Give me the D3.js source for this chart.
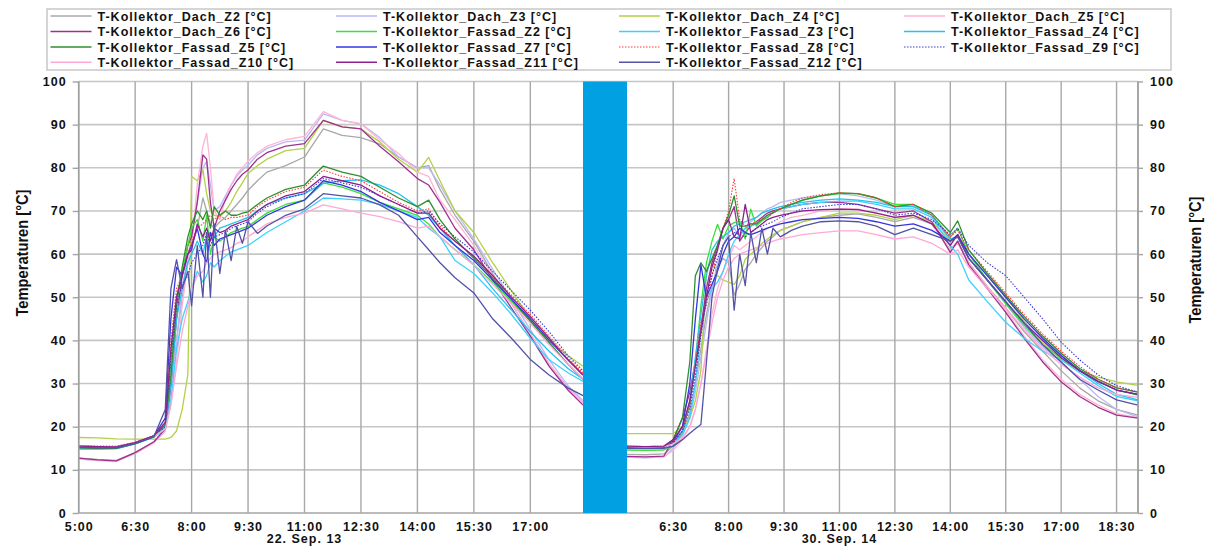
<!DOCTYPE html>
<html>
<head>
<meta charset="utf-8">
<script src="https://cdn.jsdelivr.net/npm/d3@7"></script>
<style>
  body { margin: 0; background: #fff; }
  text { font-family: "Liberation Sans", Arial, sans-serif; font-weight: bold; fill: #111; }
</style>
</head>
<body>
<script>
// ---- time grids (hours of the day) ----
const hoursDay1 = [5.0, 5.5, 6.0, 6.5, 7.0, 7.3, 7.45, 7.6, 7.75, 7.9,
  8.0, 8.15, 8.3, 8.4, 8.5, 8.6, 8.75, 8.9, 9.05, 9.2,
  9.35, 9.5, 9.75, 10.0, 10.5, 11.0, 11.5, 12.0, 12.5, 13.0,
  13.5, 14.0, 14.3, 14.6, 15.0, 15.5, 16.0, 16.5, 17.0, 17.5,
  18.0, 18.4];
const hoursDay2 = [5.25, 5.75, 6.25, 6.5, 6.75, 6.95, 7.1, 7.25, 7.4, 7.55,
  7.7, 7.85, 8.0, 8.15, 8.3, 8.45, 8.6, 8.75, 8.9, 9.05,
  9.2, 9.4, 9.7, 10.0, 10.5, 11.0, 11.5, 12.0, 12.5, 13.0,
  13.5, 14.0, 14.2, 14.5, 15.0, 15.5, 16.0, 16.5, 17.0, 17.5,
  18.0, 18.5, 19.08];

// ---- day 1 : 22. Sep. 13 ----
const dachZ2Day1 = [12.7, 12.4, 12.2, 14.0, 16.5, 19.5, 28, 40, 50, 58,
  62, 66, 73, 70, 67, 66, 67.5, 68.5, 70, 71.5,
  73, 74.8, 77, 79, 80.5, 82.5, 89, 87.5, 87, 85.5,
  82.5, 80, 80.5, 75, 69, 63, 55.5, 48.5, 41.5, 34.5,
  29, 25.5];
const dachZ3Day1 = [12.5, 12.2, 12.0, 13.8, 16.3, 19, 27, 40, 52, 60,
  63, 72, 80, 81.5, 76, 70, 71, 73.5, 76, 78,
  79.5, 80.6, 83, 84.5, 86, 86.4, 92.5, 91, 90.2, 87,
  82.5, 80, 80, 76, 70, 63.5, 56.5, 49.5, 42.5, 35.5,
  29.5, 26];
const dachZ4Day1 = [17.5, 17.4, 17.2, 17.1, 17.1, 17.1, 17.5, 19, 24, 32,
  78, 77, 79.5, 74, 70, 69, 68.7, 70, 72, 74.5,
  76.5, 78.7, 80.5, 82, 84, 84.5, 91, 89.5, 89, 86,
  82, 79, 82.4, 77, 70, 65, 58, 51.5, 45, 40,
  36.5, 34];
const dachZ5Day1 = [12.5, 12.2, 12.0, 13.8, 16.3, 19, 25, 35, 48, 58,
  62, 76, 85, 88, 80, 70, 68, 73, 76, 78.5,
  80, 81.5, 83.5, 85, 86.5, 87.3, 93, 91, 90.2, 86.5,
  83.3, 79, 78, 72.5, 68, 62, 55, 48.5, 41.5, 34.5,
  29, 25.5];
const dachZ6Day1 = [12.7, 12.3, 12.1, 14.0, 16.5, 19.5, 30, 45, 55, 62,
  64, 72, 83, 82, 72, 66, 70, 72.5, 75, 77,
  78.5, 79.5, 82, 83.5, 85, 85.6, 91, 89.5, 89, 85,
  81.4, 77.5, 76, 72, 66, 61, 54, 47.5, 41, 34,
  28.5, 25];
const fassadZ2Day1 = [14.8, 14.8, 14.9, 16.0, 17.6, 20, 35, 50, 56, 62,
  66, 68, 63, 69, 60, 64, 63, 64, 65, 65.5,
  66, 66.4, 68, 69.5, 71.5, 72.5, 76.5, 75.5, 74, 72,
  70.5, 69, 67, 64, 61, 57.5, 53.5, 49, 44.5, 39.5,
  34.5, 31];
const fassadZ3Day1 = [14.9, 14.8, 14.9, 16.0, 17.6, 19.5, 26, 38, 45, 49,
  52, 56, 53.5, 55, 58, 57, 58.5, 59.5, 60.5, 61,
  61.5, 62, 63.5, 65, 67.5, 70, 73, 72.8, 72.5, 71.5,
  70, 68.5, 66, 64, 58.5, 55.5, 51, 46, 40.5, 35.5,
  32.5, 30.5];
const fassadZ4Day1 = [15.2, 15.1, 15.1, 16.1, 17.7, 20, 30, 45, 52, 58,
  60, 63, 60, 64, 65, 64, 66, 66.5, 67, 67.5,
  68, 68.5, 70, 71.5, 73, 74, 76.4, 77, 77.2, 76,
  74, 71, 69, 66, 62, 57.5, 52, 47, 42, 37.5,
  33.5, 31];
const fassadZ5Day1 = [15.1, 15.0, 15.0, 16.1, 17.7, 20.5, 32, 48, 57, 64,
  67, 70, 68, 70, 66, 71, 69, 70, 69, 69,
  69.5, 69.8, 71.5, 73, 75, 76, 80.4, 79, 78, 75.5,
  73, 71, 72.5, 68, 63.5, 59, 54.5, 49.5, 44.5, 39.5,
  34.5, 31];
const fassadZ7Day1 = [15.5, 15.4, 15.3, 16.3, 17.9, 22, 45, 57, 55, 60,
  62, 66, 60, 58, 65, 62, 63.5, 64, 64.5, 65,
  65.5, 66, 67.5, 69, 71, 72.5, 77, 76, 74.5, 72,
  70, 68, 68.5, 65, 62, 58.5, 54, 49.5, 45, 40,
  35.5, 32];
const fassadZ8Day1 = [15.6, 15.5, 15.5, 16.4, 18, 21, 40, 52, 55, 60,
  63, 66, 67, 68, 69, 68, 69, 68, 68.5, 68.5,
  68.8, 69, 71, 72.5, 74.5, 75.5, 79.5, 78, 77, 74.5,
  72, 70, 70.5, 66.5, 63, 59.5, 55, 50.5, 46, 41,
  36, 32.5];
const fassadZ9Day1 = [15.3, 15.2, 15.2, 16.2, 17.8, 20, 36, 48, 53, 55,
  58, 60, 62, 65, 62, 64, 64.5, 65, 66, 66.5,
  67, 67.5, 69.5, 71, 73, 74, 77.5, 76.5, 75.5, 73.5,
  71.5, 69.5, 70, 67, 64, 60.5, 56, 51.5, 47, 42,
  36.5, 33];
const fassadZ10Day1 = [15.5, 15.4, 15.4, 16.3, 17.8, 19.5, 25, 34, 42, 48,
  52, 55, 56, 58, 59, 60, 60.5, 61, 61.5, 62.5,
  63, 64, 65.5, 67, 68.5, 69.5, 71.4, 70.5, 69.5, 68.7,
  67.5, 66, 66.5, 64, 61, 57.5, 53, 48.5, 44, 39,
  34.5, 31];
const fassadZ11Day1 = [15.5, 15.4, 15.3, 16.3, 17.9, 21, 38, 50, 55, 60,
  61, 67, 64, 66, 63, 66, 65, 65.5, 66.5, 67,
  67.5, 68, 70, 71.5, 73.5, 74.5, 78, 77, 76, 73.5,
  71.5, 69.5, 69.5, 66, 63, 59.5, 55, 50, 45.5, 40.5,
  35.5, 32];
const fassadZ12Day1 = [15.2, 15.1, 15.1, 16.1, 17.7, 24, 52, 58.7, 52, 56,
  48, 62, 50, 65, 50, 67, 55.5, 65.5, 58.5, 66.4,
  62.5, 67.5, 64.8, 66.5, 69, 70.5, 74, 73.5, 73, 71.4,
  69, 64, 61, 58, 54.5, 51, 45, 40.5, 35.6, 32,
  29, 27.2];

// ---- day 2 : 30. Sep. 14 ----
const dachZ2Day2 = [13.6, 13.5, 13.7, 15.5, 18.5, 23, 30, 38, 46, 52,
  57, 59, 58, 50.5, 53, 56.5, 58, 60, 61.5, 63,
  64, 65.5, 66.5, 67.5, 68.5, 69, 69.3, 68.5, 67.5, 68.5,
  67, 61, 63, 58, 52.5, 47.5, 42, 37.5, 33, 29,
  26, 24, 22.7];
const dachZ3Day2 = [12.9, 12.8, 13.0, 15.0, 18, 22, 28, 36, 44, 52,
  58, 62, 65, 66, 64, 66, 67.5, 68.5, 69.5, 70.5,
  71, 72, 72.5, 73, 73.5, 74, 73.5, 72.5, 71, 71,
  69, 63, 64.5, 60, 54, 48.5, 43, 38.5, 35, 31,
  27, 24, 22.3];
const dachZ4Day2 = [18.4, 18.4, 18.4, 18.4, 20, 22, 26, 33, 56, 59,
  55, 54, 53.5, 53, 55, 58.8, 60, 61, 62.5, 63.5,
  64.5, 65.5, 66.5, 67.5, 68.5, 69.5, 69.5, 69, 68, 69,
  67.5, 63, 64, 60, 55, 50, 44.5, 39.5, 35.5, 33,
  31.5, 30.4, 29.6];
const dachZ5Day2 = [13.0, 12.9, 13.1, 14.5, 17, 20, 24, 30, 38, 46,
  52, 56, 59, 62, 61, 62, 63, 64, 65, 66,
  66.5, 67.5, 68.5, 69, 70, 70.5, 70.5, 69.5, 68.5, 69,
  67, 61, 62.5, 58, 52.5, 47, 41, 35.5, 31, 27.5,
  25, 23, 22.1];
const dachZ6Day2 = [13.1, 13.0, 13.2, 17, 22, 28, 35, 43, 52, 58,
  62, 66, 68, 71, 63, 65, 66.5, 67.5, 68.5, 69.5,
  70, 70.5, 71, 71.5, 72, 72, 71.5, 70.5, 69.5, 70,
  67.5, 60.4, 63, 57.5, 52, 46.5, 40.5, 35, 30.4, 27,
  24.5, 22.7, 22];
const fassadZ2Day2 = [14.6, 14.5, 14.6, 15.5, 19, 25, 35, 48, 58, 63,
  66.9, 63.5, 66.5, 67.3, 67.7, 63.5, 70.4, 66.5, 67.7, 68.5,
  69.6, 70.5, 71.5, 72.5, 73.5, 74, 74, 73, 71.5, 71.5,
  69, 64, 66, 60, 54, 48.5, 43.5, 39, 36, 33,
  30.5, 28.5, 27.3];
const fassadZ3Day2 = [15.3, 15.2, 15.3, 16, 18, 22, 30, 42, 49, 52,
  53.5, 56, 60, 63, 64.5, 66, 66.5, 67, 68, 69,
  69.5, 70.5, 71, 71.5, 72, 72.3, 72.3, 71.5, 70.5, 70.5,
  68.5, 62, 60, 54, 49, 44.2, 40.5, 37.5, 35.5, 32.5,
  29.5, 27, 26];
const fassadZ4Day2 = [15.4, 15.3, 15.4, 16.3, 19, 26, 36, 46, 55, 61,
  63, 64, 65, 66.5, 67, 67.5, 68, 68.5, 69.5, 70,
  70.5, 71, 71.5, 72, 72.5, 72.8, 72.5, 72, 71, 71,
  69, 63.5, 64, 59, 54, 49, 44, 40, 36.5, 33,
  30, 27.5, 26.2];
const fassadZ5Day2 = [15.2, 15.1, 15.2, 17, 22, 35, 55, 58, 56, 59,
  62, 66, 69, 73.5, 66.5, 66.5, 67, 67, 68, 69,
  69.6, 70.5, 71.5, 72.5, 73.5, 74.2, 74, 73, 71, 71.5,
  69.5, 65, 67.7, 61, 55.5, 50.5, 45.5, 41, 37, 33.5,
  31, 29, 28];
const fassadZ7Day2 = [15.2, 15.1, 15.2, 16.5, 20, 30, 45, 57.5, 50, 53,
  56, 60, 63, 64, 66, 65, 64.5, 65, 65.5, 66,
  66.5, 67, 67.5, 68, 68.3, 68.5, 68.3, 67.5, 66.5, 67,
  65.5, 63, 64.5, 60, 55, 50, 45, 40.5, 36.5, 33,
  30.5, 28.5, 27.5];
const fassadZ8Day2 = [15.5, 15.4, 15.5, 16.5, 19, 25, 35, 44, 48, 55,
  61, 66, 70, 77.5, 68, 66.5, 67, 67.5, 68, 68.5,
  69.5, 70.5, 72, 73, 73.8, 74.2, 74, 73, 71, 71.5,
  69, 64, 65.5, 61, 56, 51, 46, 41.5, 37.5, 34,
  31, 29, 28];
const fassadZ9Day2 = [15.3, 15.2, 15.3, 16.3, 19, 24, 32, 41, 50, 55,
  59, 62, 64, 65, 64.5, 64, 65, 66, 66.5, 67,
  67.5, 68.5, 69.5, 70.5, 71, 71.5, 71.5, 70.5, 69, 69.5,
  68, 64.5, 66, 62, 58, 55, 50, 45, 39.6, 35.5,
  32, 29.5, 28];
const fassadZ10Day2 = [15.4, 15.3, 15.4, 16, 17.5, 20, 24, 30, 37, 44,
  50, 54, 57, 59, 60, 60.5, 61, 61.5, 62, 62.5,
  63, 63.5, 64, 64.5, 65, 65.4, 65.4, 64.5, 63.5, 64,
  62.5, 60, 61, 57, 52, 47.5, 42.5, 38, 34.5, 31.5,
  29, 27.5, 26.8];
const fassadZ11Day2 = [15.5, 15.4, 15.5, 17, 20, 26, 34, 42, 50, 57,
  61, 66, 68, 64, 63.5, 71.5, 65, 66, 67, 68,
  68.5, 69, 69.5, 70, 70.3, 70.4, 70.3, 69.5, 68.5, 69,
  67, 62, 64.5, 59, 54, 49, 44, 40, 36, 33,
  30.5, 28.5, 27.5];
const fassadZ12Day2 = [15.0, 14.9, 15.0, 15.5, 17, 18.5, 19.5, 20.5, 35, 50,
  56.5, 62, 64, 47, 60, 52.7, 65, 58, 66, 60,
  66, 64, 65.5, 66.5, 67.5, 67.7, 67.5, 66.5, 64.5, 66,
  64.5, 63, 64, 59, 54, 49, 44, 39, 35, 31,
  28.5, 26.2, 25];

// ---- names, axis ticks ----
const seriesNames = [
  "T-Kollektor_Dach_Z2 [°C]", "T-Kollektor_Dach_Z3 [°C]", "T-Kollektor_Dach_Z4 [°C]", "T-Kollektor_Dach_Z5 [°C]",
  "T-Kollektor_Dach_Z6 [°C]", "T-Kollektor_Fassad_Z2 [°C]", "T-Kollektor_Fassad_Z3 [°C]", "T-Kollektor_Fassad_Z4 [°C]",
  "T-Kollektor_Fassad_Z5 [°C]", "T-Kollektor_Fassad_Z7 [°C]", "T-Kollektor_Fassad_Z8 [°C]", "T-Kollektor_Fassad_Z9 [°C]",
  "T-Kollektor_Fassad_Z10 [°C]", "T-Kollektor_Fassad_Z11 [°C]", "T-Kollektor_Fassad_Z12 [°C]"];
const seriesDay1 = [dachZ2Day1, dachZ3Day1, dachZ4Day1, dachZ5Day1, dachZ6Day1, fassadZ2Day1, fassadZ3Day1,
  fassadZ4Day1, fassadZ5Day1, fassadZ7Day1, fassadZ8Day1, fassadZ9Day1, fassadZ10Day1, fassadZ11Day1, fassadZ12Day1];
const seriesDay2 = [dachZ2Day2, dachZ3Day2, dachZ4Day2, dachZ5Day2, dachZ6Day2, fassadZ2Day2, fassadZ3Day2,
  fassadZ4Day2, fassadZ5Day2, fassadZ7Day2, fassadZ8Day2, fassadZ9Day2, fassadZ10Day2, fassadZ11Day2, fassadZ12Day2];
const dayLabels = ["22. Sep. 13", "30. Sep. 14"];
const xTicksDay1 = [5, 6.5, 8, 9.5, 11, 12.5, 14, 15.5, 17];
const xTicksDay2 = [6.5, 8, 9.5, 11, 12.5, 14, 15.5, 17, 18.5];
const yTicks = [0, 10, 20, 30, 40, 50, 60, 70, 80, 90, 100];

// styles
const seriesColors = ["#a8a8a8", "#b9b9f5", "#b2d145", "#ffb3d6", "#a0308f", "#38e038", "#3fd0ff", "#22c3ee",
  "#2e8f2e", "#3535e0", "#ff3b3b", "#3a3ad0", "#ffa8d8", "#8c1f8c", "#5252a6"];
const seriesDash = [null, null, null, null, null, null, null, null, null, null, "1.5,1.5", "1.5,1.5", null, null, null];

const W = 1213, H = 546;
let plot = {left: 78.7, right: 1138, top: 81.5, bottom: 513, gapL: 583, gapR: 627};

let svg = d3.select("body").append("svg")
  .attr("width", W)
  .attr("height", H);

let y = d3.scaleLinear().domain([0, 100]).range([plot.bottom, plot.top]);
let x1 = d3.scaleLinear().domain([5, 18.4]).range([plot.left, plot.gapL]);
let x2 = d3.scaleLinear().domain([5.25, 19.08]).range([plot.gapR, plot.right]);

let fmtHour = h => Math.floor(h) + ":" + (h % 1 ? "30" : "00");

// horizontal grid
svg.append("g").selectAll("line")
  .data(yTicks)
  .enter().append("line")
  .attr("x1", plot.left).attr("x2", plot.right)
  .attr("y1", d => y(d)).attr("y2", d => y(d))
  .attr("stroke", d => d === 0 ? "#a4a4a4" : "#c6c6c6")
  .attr("stroke-width", 1.6);

// vertical grid
let vgrid = svg.append("g");
vgrid.selectAll(".g1")
  .data(xTicksDay1)
  .enter().append("line")
  .attr("x1", d => x1(d)).attr("x2", d => x1(d))
  .attr("y1", plot.top).attr("y2", plot.bottom)
  .attr("stroke", "#a8a8a8").attr("stroke-width", 1.4);
vgrid.selectAll(".g2")
  .data(xTicksDay2.concat([19.08]))
  .enter().append("line")
  .attr("x1", d => x2(d)).attr("x2", d => x2(d))
  .attr("y1", plot.top).attr("y2", plot.bottom)
  .attr("stroke", "#a8a8a8").attr("stroke-width", 1.4);

// lines
let line1 = d3.line().x((d, i) => x1(hoursDay1[i])).y(d => y(d));
let line2 = d3.line().x((d, i) => x2(hoursDay2[i])).y(d => y(d));

let lines = svg.append("g").attr("fill", "none");
seriesNames.forEach((name, s) => {
  [[seriesDay1[s], line1], [seriesDay2[s], line2]].forEach(([vals, gen]) => {
    lines.append("path")
      .attr("d", gen(vals))
      .attr("stroke", seriesColors[s])
      .attr("stroke-width", seriesDash[s] ? 1.1 : 1.3)
      .attr("stroke-dasharray", seriesDash[s])
      .attr("stroke-linejoin", "round");
  });
});

// gap between the two days
svg.append("rect")
  .attr("x", plot.gapL).attr("y", plot.top)
  .attr("width", plot.gapR - plot.gapL)
  .attr("height", plot.bottom - plot.top)
  .attr("fill", "#00a0e3");

// y axes
let styleAxis = g => {
  g.select(".domain").remove();
  g.selectAll(".tick line").attr("stroke", "#a4a4a4").attr("stroke-width", 1.4);
  g.selectAll("text")
    .attr("fill", "#111")
    .style("font-size", "12.5px")
    .style("font-family", "'Liberation Sans', Arial, sans-serif")
    .style("font-weight", "bold")
    .style("letter-spacing", "1px");
};

svg.append("g")
  .attr("transform", "translate(" + plot.left + ",0)")
  .call(d3.axisLeft(y).tickValues(yTicks).tickSize(6).tickPadding(6))
  .call(styleAxis);
svg.append("g")
  .attr("transform", "translate(" + plot.right + ",0)")
  .call(d3.axisRight(y).tickValues(yTicks).tickSize(5).tickPadding(7))
  .call(styleAxis);

svg.append("line")
  .attr("x1", plot.left).attr("x2", plot.left)
  .attr("y1", plot.top).attr("y2", plot.bottom)
  .attr("stroke", "#a0a0a0").attr("stroke-width", 1.6);
svg.append("line")
  .attr("x1", plot.right).attr("x2", plot.right)
  .attr("y1", plot.top).attr("y2", plot.bottom)
  .attr("stroke", "#a0a0a0").attr("stroke-width", 1.6);

// x axes
svg.append("g")
  .attr("transform", "translate(0," + plot.bottom + ")")
  .call(d3.axisBottom(x1).tickValues(xTicksDay1).tickFormat(fmtHour).tickSize(0).tickPadding(9))
  .call(styleAxis);
svg.append("g")
  .attr("transform", "translate(0," + plot.bottom + ")")
  .call(d3.axisBottom(x2).tickValues(xTicksDay2).tickFormat(fmtHour).tickSize(0).tickPadding(9))
  .call(styleAxis);

svg.append("text")
  .attr("x", x1(11)).attr("y", 542.5)
  .attr("text-anchor", "middle")
  .style("font-size", "12.5px").style("letter-spacing", "1px")
  .text(dayLabels[0]);
svg.append("text")
  .attr("x", x2(11)).attr("y", 542.5)
  .attr("text-anchor", "middle")
  .style("font-size", "12.5px").style("letter-spacing", "1px")
  .text(dayLabels[1]);

// axis titles
[[22.5, 253], [1195, 260]].forEach(([tx, ty]) => {
  svg.append("text")
    .attr("transform", "translate(" + tx + "," + ty + ") rotate(-90)")
    .attr("text-anchor", "middle")
    .attr("dy", "0.35em")
    .attr("textLength", 127)
    .attr("lengthAdjust", "spacingAndGlyphs")
    .style("font-size", "16px")
    .text("Temperaturen [°C]");
});

// legend
let legend = svg.append("g");
legend.append("rect")
  .attr("x", 47).attr("y", 9)
  .attr("width", 1124).attr("height", 61)
  .attr("fill", "none")
  .attr("stroke", "#c8c8c8").attr("stroke-width", 1.5);

let colX = [50.5, 336, 619, 904];
let rowY = [16, 31.5, 47, 62.3];
seriesNames.forEach((name, s) => {
  let cx = colX[s % 4], cy = rowY[Math.floor(s / 4)];
  legend.append("line")
    .attr("x1", cx).attr("x2", cx + 41)
    .attr("y1", cy).attr("y2", cy)
    .attr("stroke", seriesColors[s])
    .attr("stroke-width", seriesDash[s] ? 1 : 1.4)
    .attr("stroke-dasharray", seriesDash[s]);
  legend.append("text")
    .attr("x", cx + 47).attr("y", cy)
    .attr("dy", "0.36em")
    .style("font-size", "12.5px")
    .style("letter-spacing", "1px")
    .text(name);
});
</script>
</body>
</html>
